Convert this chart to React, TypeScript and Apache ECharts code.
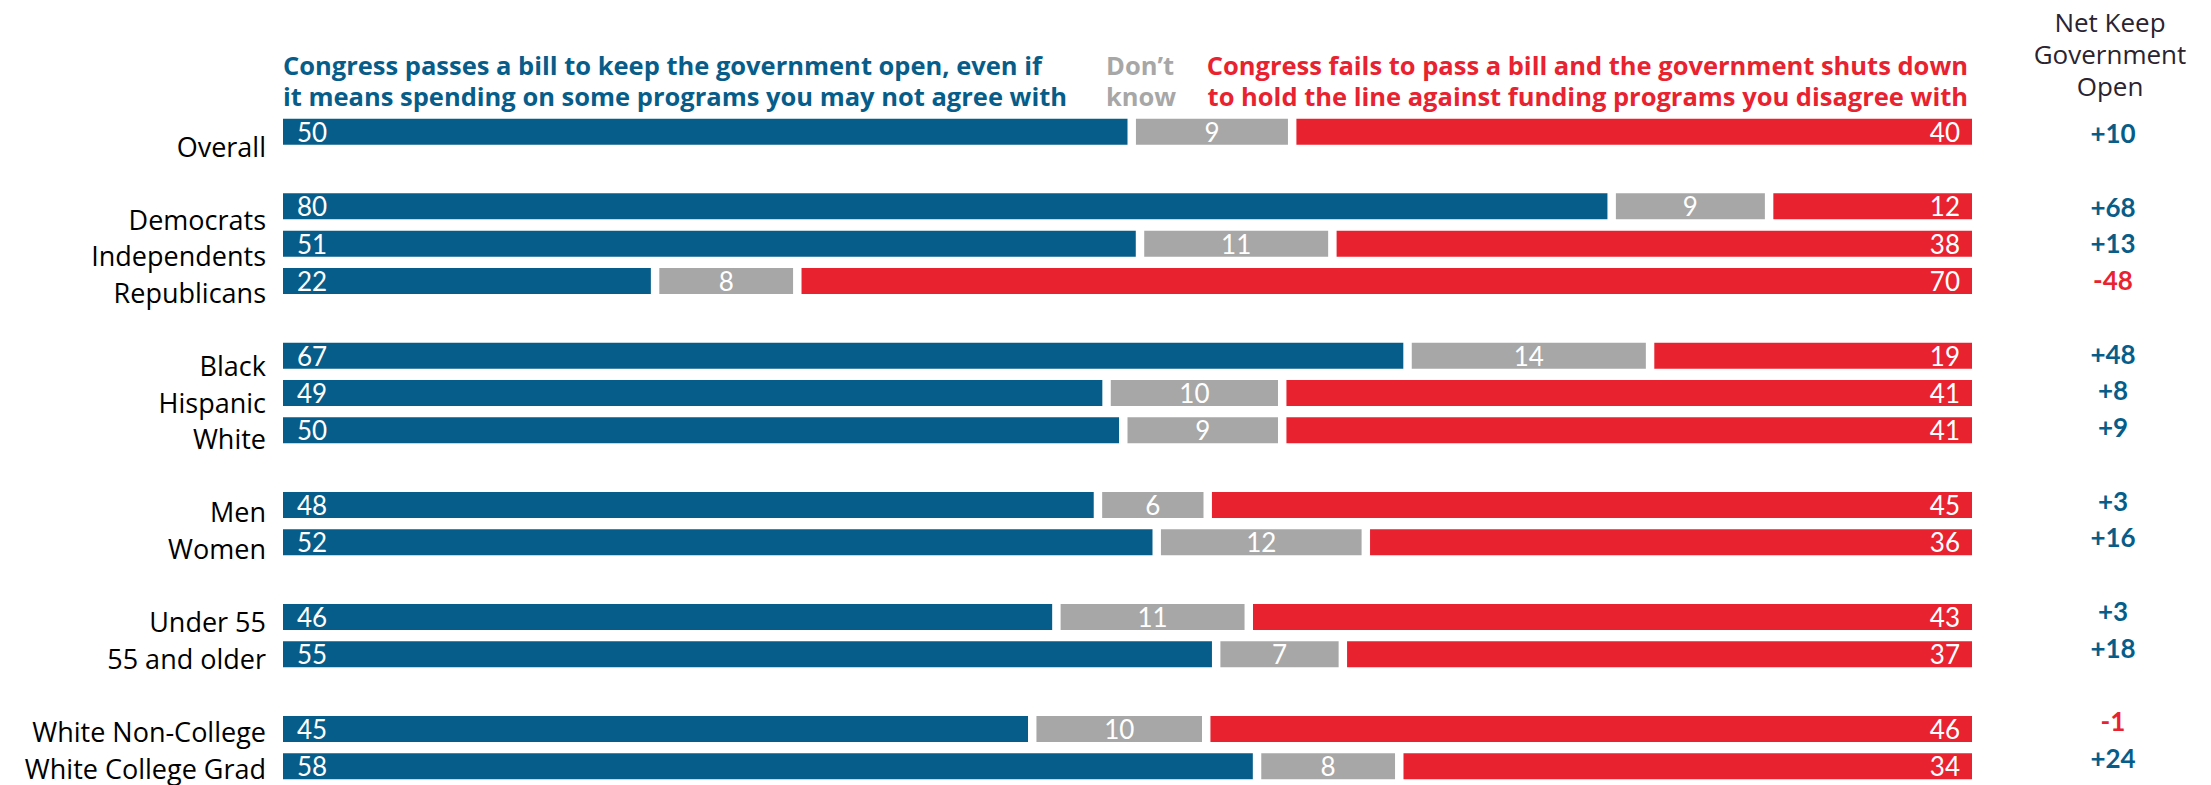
import React, { useEffect, useRef } from "react";
import * as echarts from "echarts";

const categories = [
  "Overall", "",
  "Democrats", "Independents", "Republicans", "",
  "Black", "Hispanic", "White", "",
  "Men", "Women", "",
  "Under 55", "55 and older", "",
  "White Non-College", "White College Grad",
];
const keepOpen = [50, null, 80, 51, 22, null, 67, 49, 50, null, 48, 52, null, 46, 55, null, 45, 58];
const dontKnow = [9, null, 9, 11, 8, null, 14, 10, 9, null, 6, 12, null, 11, 7, null, 10, 8];
const shutDown = [40, null, 12, 38, 70, null, 19, 41, 41, null, 45, 36, null, 43, 37, null, 46, 34];
const netKeepOpen = ["+10", "", "+68", "+13", "-48", "", "+48", "+8", "+9", "", "+3", "+16", "", "+3", "+18", "", "-1", "+24"];

const headerKeep = "Congress passes a bill to keep the government open, even if\nit means spending on some programs you may not agree with";
const headerDontKnow = "Don\u2019t\nknow";
const headerShut = "Congress fails to pass a bill and the government shuts down\nto hold the line against funding programs you disagree with";
const headerNet = ["Net Keep", "Government", "Open"];

const BLUE = "#075d89";
const GRAY = "#a7a7a7";
const RED = "#e92230";
const FONT = '"Open Sans", "Noto Sans", sans-serif';
const NUMFONT = 'Lato, "Noto Sans", sans-serif';
const GAP = 0.5;

export default function App() {
  const ref = useRef<HTMLDivElement>(null);
  useEffect(() => {
    if (!ref.current) return;
    const chart = echarts.init(ref.current, null, { renderer: "svg" });
    const norm = (arr: (number | null)[]) =>
      arr.map((v, i) => {
        if (v == null) return null;
        const t = (keepOpen[i] as number) + (dontKnow[i] as number) + (shutDown[i] as number);
        return (v * (100 - 2 * GAP)) / t;
      });
    const gapData = keepOpen.map((v) => (v == null ? null : GAP));
    const labelBase = { show: true, color: "#fff", fontFamily: NUMFONT, fontSize: 26 };
    const option = {
      animation: false,
      backgroundColor: "#fff",
      grid: [
        { left: 283, right: 239, top: 113, bottom: 0 },
        { left: 266, width: 1, top: 146, bottom: 17 },
        { left: 2113, width: 1, top: 133, bottom: 27 },
      ],
      xAxis: [
        { gridIndex: 0, type: "value", min: 0, max: 100, show: false },
        { gridIndex: 1, type: "value", show: false },
        { gridIndex: 2, type: "value", show: false },
      ],
      yAxis: [
        { gridIndex: 0, type: "category", data: categories, inverse: true, show: false },
        {
          gridIndex: 1, type: "category", data: categories, inverse: true, boundaryGap: false,
          axisLine: { show: false }, axisTick: { show: false },
          axisLabel: { interval: 0, margin: 0, align: "right", color: "#000", fontFamily: FONT, fontSize: 27 },
        },
        {
          gridIndex: 2, type: "category", data: netKeepOpen, inverse: true, boundaryGap: false,
          axisLine: { show: false }, axisTick: { show: false },
          axisLabel: {
            interval: 0, margin: 0, align: "center", fontFamily: NUMFONT, fontSize: 26, fontWeight: "bold",
            color: (v: string) => (String(v).startsWith("-") ? RED : BLUE),
          },
        },
      ],
      series: [
        {
          type: "bar", stack: "a", barWidth: 26, data: norm(keepOpen),
          itemStyle: { color: BLUE },
          label: { ...labelBase, position: "insideLeft", distance: 14, formatter: (p: any) => String(keepOpen[p.dataIndex]) },
        },
        { type: "bar", stack: "a", barWidth: 26, data: gapData, itemStyle: { color: "rgba(0,0,0,0)" }, silent: true },
        {
          type: "bar", stack: "a", barWidth: 26, data: norm(dontKnow),
          itemStyle: { color: GRAY },
          label: { ...labelBase, position: "inside", formatter: (p: any) => String(dontKnow[p.dataIndex]) },
        },
        { type: "bar", stack: "a", barWidth: 26, data: gapData, itemStyle: { color: "rgba(0,0,0,0)" }, silent: true },
        {
          type: "bar", stack: "a", barWidth: 26, data: norm(shutDown),
          itemStyle: { color: RED },
          label: { ...labelBase, position: "insideRight", distance: 12, formatter: (p: any) => String(shutDown[p.dataIndex]) },
        },
      ],
      graphic: [
        {
          type: "text", x: 283, y: 80,
          style: { text: headerKeep, fill: BLUE, font: `bold 25.5px ${FONT}`, lineHeight: 31, verticalAlign: "middle" },
        },
        {
          type: "text", x: 1106, y: 80,
          style: { text: headerDontKnow, fill: GRAY, font: `bold 25.5px ${FONT}`, lineHeight: 31, verticalAlign: "middle" },
        },
        {
          type: "text", x: 1968, y: 80,
          style: { text: headerShut, fill: RED, font: `bold 25.5px ${FONT}`, lineHeight: 31, align: "right", verticalAlign: "middle" },
        },
        ...headerNet.map((t, i) => ({
          type: "text", x: 2110, y: 22 + i * 32,
          style: { text: t, fill: "#2a2330", font: `500 26px ${FONT}`, align: "center", verticalAlign: "middle" },
        })),
      ],
    };
    chart.setOption(option as any);
    return () => chart.dispose();
  }, []);
  return (
    <div
      ref={ref}
      style={{ position: "fixed", left: 0, top: 0, width: 2211, height: 785, background: "#fff" }}
    />
  );
}
